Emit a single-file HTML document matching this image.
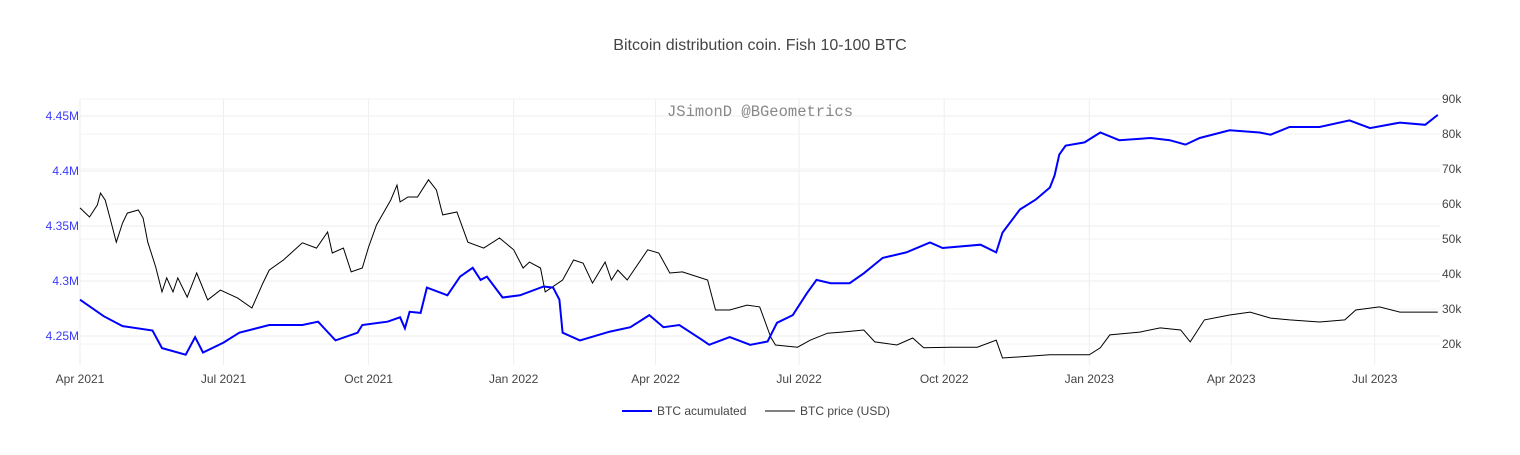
<!DOCTYPE html>
<html><head><meta charset="utf-8"><style>
body{margin:0;background:#fff;}
svg text{font-family:"Liberation Sans",sans-serif;}
</style></head><body>
<svg id="c" width="1520" height="450">
<text x="760" y="50" text-anchor="middle" font-size="16" fill="#444">Bitcoin distribution coin. Fish 10-100 BTC</text>
<g id="grid"></g>
<text x="760" y="116" text-anchor="middle" font-size="15.5" fill="#888" style="font-family:'Liberation Mono',monospace">JSimonD @BGeometrics</text>
<g id="marks"></g>
<g id="axes"></g>
<g>
<line x1="622" y1="411" x2="652" y2="411" stroke="#0000ff" stroke-width="2"/>
<text x="657" y="415" font-size="12" fill="#444">BTC acumulated</text>
<line x1="765" y1="411" x2="795" y2="411" stroke="#000" stroke-width="1"/>
<text x="800" y="415" font-size="12" fill="#444">BTC price (USD)</text>
</g>
</svg>
<script>
// day offsets from 2021-04-01
const accDays=[0,15,27,46,52,67,73,78,91,101,120,141,151,162,176,179,195,203,206,209,216,220,233,241,249,254,258,268,279,294,300,304,306,317,336,349,361,370,380,395,399,412,425,436,442,452,461,467,476,488,497,509,524,539,547,571,581,585,596,606,615,618,621,625,637,647,659,679,691,701,710,729,748,755,767,786,805,818,837,853,861];
const accValues=[4.283,4.268,4.259,4.255,4.239,4.233,4.249,4.235,4.244,4.253,4.260,4.260,4.263,4.246,4.253,4.260,4.263,4.267,4.257,4.272,4.271,4.294,4.287,4.304,4.312,4.301,4.304,4.285,4.287,4.295,4.294,4.283,4.253,4.246,4.254,4.258,4.269,4.258,4.260,4.246,4.242,4.249,4.242,4.245,4.262,4.269,4.289,4.301,4.298,4.298,4.307,4.321,4.326,4.335,4.330,4.333,4.326,4.344,4.365,4.374,4.385,4.396,4.415,4.423,4.426,4.435,4.428,4.430,4.428,4.424,4.430,4.437,4.435,4.433,4.440,4.440,4.446,4.439,4.444,4.442,4.451];
const priceDays=[0,6,11,13,16,19,23,27,30,37,40,43,48,52,55,59,62,68,74,81,89,100,109,116,120,129,141,150,157,160,167,172,179,183,188,197,201,203,208,214,221,226,230,239,246,256,266,275,281,285,292,295,306,313,319,325,333,337,341,347,360,367,374,382,398,403,412,423,431,438,441,455,463,474,483,497,504,518,528,535,552,569,581,585,615,640,647,653,672,685,698,704,713,729,742,755,767,786,802,809,824,837,861];
const priceValues=[58.9,56.3,59.7,63.1,61.1,56.0,49.1,54.6,57.4,58.3,56.0,49.1,42.0,34.9,38.9,34.9,38.9,33.4,40.3,32.6,35.4,33.1,30.3,37.4,41.1,44.0,48.9,47.4,52.0,46.0,47.4,40.6,41.7,47.7,54.0,61.1,65.4,60.6,62.0,62.0,66.9,64.0,56.9,57.7,49.1,47.4,50.3,46.9,41.7,43.4,41.7,34.9,38.3,44.0,43.1,37.4,43.4,38.3,41.1,38.3,46.9,46.0,40.3,40.6,38.3,29.7,29.7,31.1,30.6,22.0,19.7,19.1,21.1,23.1,23.4,24.0,20.6,19.7,21.7,18.9,19.1,19.1,21.1,16.0,16.9,16.9,18.9,22.6,23.4,24.6,24.0,20.6,26.9,28.3,29.1,27.4,26.9,26.3,26.9,29.7,30.6,29.1,29.1];
const xTickLabels=["Apr 2021","Jul 2021","Oct 2021","Jan 2022","Apr 2022","Jul 2022","Oct 2022","Jan 2023","Apr 2023","Jul 2023"];
const xTickDays=[0,91,183,275,365,456,548,640,730,821];
const leftTicks=[4.25,4.3,4.35,4.4,4.45];
const leftTickLabels=["4.25M","4.3M","4.35M","4.4M","4.45M"];
const rightTicks=[20,30,40,50,60,70,80,90];
const rightTickLabels=["20k","30k","40k","50k","60k","70k","80k","90k"];

const X=d=>80+d*1.577;
const YL=v=>116+(4.45-v)*1100;
const YR=v=>99+(90-v)*3.5;
const NS="http://www.w3.org/2000/svg";
function mk(tag,attrs,parent,text){const e=document.createElementNS(NS,tag);for(const k in attrs)e.setAttribute(k,attrs[k]);if(text!==undefined)e.textContent=text;parent.appendChild(e);return e;}
const grid=document.getElementById('grid'),axes=document.getElementById('axes'),marks=document.getElementById('marks');
xTickDays.forEach((d,i)=>{
  const l=mk('line',{x1:X(d),x2:X(d),y1:99,y2:365,stroke:'#eee','stroke-width':1},grid);
  
  
  const t=mk('text',{x:X(d),y:383,'text-anchor':'middle','font-size':12,fill:'#444'},axes,xTickLabels[i]);
  
  
});
leftTicks.forEach((v,i)=>{
  const l=mk('line',{x1:80,x2:1440,y1:YL(v),y2:YL(v),stroke:'#eee','stroke-width':1},grid);
  
  
  const t=mk('text',{x:79,y:YL(v)+4,'text-anchor':'end','font-size':12,fill:'#3a3aff'},axes,leftTickLabels[i]);
  
  
});
rightTicks.forEach((v,i)=>{
  const l=mk('line',{x1:80,x2:1440,y1:YR(v),y2:YR(v),stroke:'#f3f3f3','stroke-width':1},grid);
  
  
  const t=mk('text',{x:1442,y:YR(v)+4,'text-anchor':'start','font-size':12,fill:'#444'},axes,rightTickLabels[i]);
  
  
});
const pp=priceDays.map((d,i)=>X(d).toFixed(1)+','+YR(priceValues[i]).toFixed(1)).join(' ');
const pl=mk('polyline',{points:pp,fill:'none',stroke:'#000','stroke-width':1},marks);


const ap=accDays.map((d,i)=>X(d).toFixed(1)+','+YL(accValues[i]).toFixed(1)).join(' ');
const al=mk('polyline',{points:ap,fill:'none',stroke:'#0000ff','stroke-width':2},marks);


</script>
</body></html>
